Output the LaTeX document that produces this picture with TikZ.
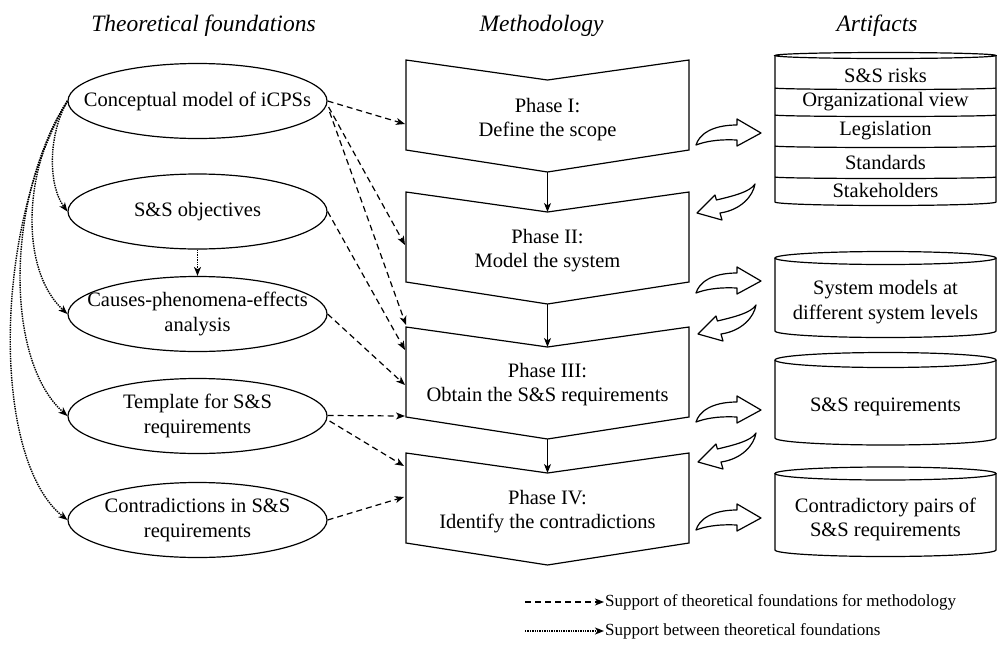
\documentclass[tikz,border=0pt]{standalone}
\usepackage{fontspec}
\setmainfont{Liberation Serif}
\usetikzlibrary{arrows.meta,calc,shapes.geometric}

% chevron-shaped phase box: #1 = top edge (px from top), #2 = name prefix
\newcommand\drawphase[2]{%
  \begin{scope}[yshift=-#1pt]
    \draw[shapeline] (406,0) -- (547.5,-20) -- (689,0) -- (689,-90)
      -- (547.5,-112) -- (406,-90) -- cycle;
    \coordinate (#2n) at (547.5,-20);
    \coordinate (#2s) at (547.5,-112);
  \end{scope}}

% database cylinder: #1 top centre, #2 top radius, #3 side bottom, #4 bottom radius
\newcommand\drawcyl[4]{%
  \draw[shapeline] (885.5,-#1) ellipse[x radius=110.5, y radius=#2];
  \draw[shapeline] (775,-#1) -- (775,-#3)
    arc[start angle=180, end angle=360, x radius=110.5, y radius=#4] -- (996,-#1);}

% hollow curved arrows between phases and artifacts
\newcommand\curlright[1]{%
  \path[blockarrow, shift={#1}] (0,0) .. controls (3,10) and (15,20) .. (41,20)
    -- (41,26) -- (65,12) -- (41,-1) -- (41,5) .. controls (20,6) and (8,3) .. (0,0) -- cycle;}
\newcommand\curlleft[1]{%
  \path[blockarrow, shift={#1}] (0,0) .. controls (-2,-12) and (-14,-26) .. (-35,-29)
    -- (-33,-36) -- (-58,-29) -- (-40,-11) -- (-38.6,-16) .. controls (-22,-12) and (-5,-8) .. (0,0) -- cycle;}

\begin{document}
\begin{tikzpicture}[x=1pt, y=1pt,
  shapeline/.style={line width=1.2pt, line join=miter},
  body/.style={font=\fontsize{20.5}{24.5}\selectfont, align=center, inner sep=0pt},
  found/.style={ellipse, draw, line width=1.2pt, minimum width=259pt,
    minimum height=75pt, inner sep=0pt},
  tip/.style={-{Stealth[length=9pt, width=7pt, inset=2.5pt]}},
  supmeth/.style={tip, line width=1.2pt, dash pattern=on 6pt off 4pt},
  supfound/.style={tip, line width=1.4pt, dash pattern=on 1.4pt off 1pt},
  flow/.style={tip, line width=1.2pt},
  title/.style={font=\fontsize{23.5}{28}\selectfont\itshape, anchor=base, inner sep=0pt},
  legend/.style={font=\fontsize{17}{20}\selectfont, anchor=west, inner sep=0pt},
  blockarrow/.style={draw, fill=white, line width=1.2pt, line join=round}
]
\useasboundingbox (0,0) rectangle (997,-654);

% column titles
\node[title] (h1) at (203.5,-31) {Theoretical foundations};
\node[title] (h2) at (541.5,-31) {Methodology};
\node[title] (h3) at (877,-31) {Artifacts};

% theoretical foundations
\node[found, label={[body]center:Conceptual model of iCPSs}] (c1) at (197.5,-101) {};
\node[found, label={[body]center:S\&S objectives}] (c2) at (197.5,-211.5) {};
\node[found, label={[body]center:Causes-phenomena-effects\\analysis}] (c3) at (197.5,-314) {};
\node[found, label={[body]center:Template for S\&S\\requirements}] (c4) at (197.5,-416) {};
\node[found, label={[body]center:Contradictions in S\&S\\requirements}] (c5) at (197.5,-520) {};

% methodology phases
\drawphase{60}{p1}
\drawphase{192}{p2}
\drawphase{327}{p3}
\drawphase{453}{p4}
\node[body] (t1) at (547.5,-119.5) {Phase I:\\Define the scope};
\node[body] (t2) at (547.5,-250.5) {Phase II:\\Model the system};
\node[body] (t3) at (547.5,-384.5) {Phase III:\\Obtain the S\&S requirements};
\node[body] (t4) at (547.5,-511.5) {Phase IV:\\Identify the contradictions};
\draw[flow] (p1s) -- (p2n);
\draw[flow] (p2s) -- (p3n);
\draw[flow] (p3s) -- (p4n);

% artifacts
\drawcyl{55.5}{3}{202}{3.5}
\foreach \y in {88,115,146,177}
  \draw[shapeline] (775,-\y) arc[start angle=180, end angle=360, x radius=110.5, y radius=1.5];
\node[body] (a1) at (885.5,-75) {S\&S risks};
\node[body] (a2) at (885.5,-102) {Organizational view};
\node[body] (a3) at (885.5,-131) {Legislation};
\node[body] (a4) at (885.5,-162) {Standards};
\node[body] (a5) at (885.5,-190) {Stakeholders};
\drawcyl{258}{6.5}{331}{6.5}
\node[body] (b1) at (885.5,-302) {System models at\\different system levels};
\drawcyl{360}{7.5}{438}{7}
\node[body] (b2) at (885.5,-407) {S\&S requirements};
\drawcyl{473.5}{6.5}{550}{6.5}
\node[body] (b3) at (885.5,-519.5) {Contradictory pairs of\\S\&S requirements};

% exchange between phases and artifacts
\curlright{(696,-145)}
\curlleft{(755,-184)}
\curlright{(696,-293)}
\curlleft{(756,-305)}
\curlright{(696,-422)}
\curlleft{(756,-433)}
\curlright{(696,-530)}

% inputs on the left edges of the phases
\coordinate (i1) at (405,-124);
\coordinate (i2) at (405,-245);
\coordinate (i3) at (406,-325);
\coordinate (i4) at (405,-350);
\coordinate (i5) at (405,-385);
\coordinate (i6) at (405,-416);
\coordinate (i7) at (404,-466);
\coordinate (i8) at (404,-497);

% support of theoretical foundations for methodology
\draw[supmeth] (c1.east) -- (i1);
\draw[supmeth] ($(c1.east)+(1,-6)$) -- (i2);
\draw[supmeth] ($(c1.east)+(2,-11)$) -- (i3);
\draw[supmeth] (c2.east) -- (i4);
\draw[supmeth] (c3.east) -- (i5);
\draw[supmeth] ($(c4.east)+(0,0.5)$) -- (i6);
\draw[supmeth] ($(c4.east)+(2,-5)$) -- (i7);
\draw[supmeth] (c5.east) -- (i8);

% support between theoretical foundations
\draw[supfound] (c1.west) .. controls (48,-135) and (48,-185) .. (c2.west);
\draw[supfound] (c1.west) .. controls (22,-170) and (20,-270) .. (c3.west);
\draw[supfound] (c1.west) .. controls (5,-200) and (5,-360) .. (c4.west);
\draw[supfound] (c1.west) .. controls (-8,-230) and (-8,-460) .. (c5.west);
\draw[supfound] (c2.south) -- (c3.north);

% legend
\coordinate (l1a) at (525,-602);
\coordinate (l1b) at (604,-602);
\coordinate (l2a) at (525,-631);
\coordinate (l2b) at (604,-631);
\draw[supmeth] (l1a) -- (l1b);
\node[legend] (lg1) at (605,-602) {Support of theoretical foundations for methodology};
\draw[supfound] (l2a) -- (l2b);
\node[legend] (lg2) at (605,-631) {Support between theoretical foundations};
\end{tikzpicture}
\end{document}
